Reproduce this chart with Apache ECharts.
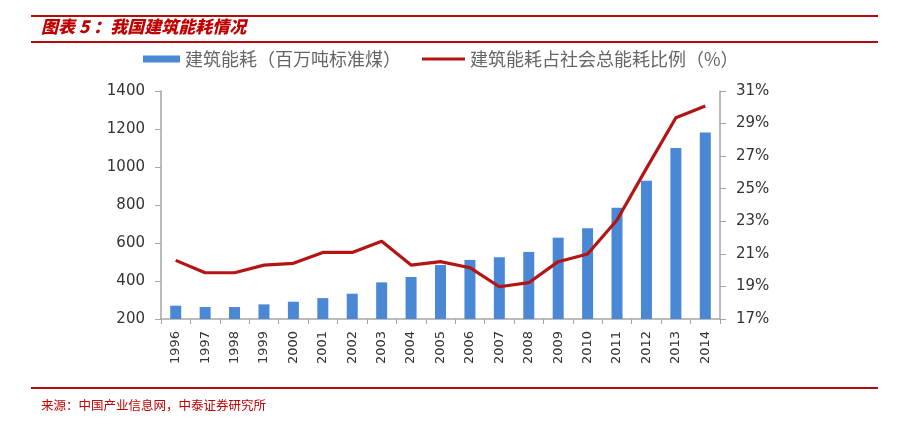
<!DOCTYPE html>
<html><head><meta charset="utf-8">
<script src="https://cdn.jsdelivr.net/npm/echarts@6/dist/echarts.min.js"></script>
<style>html,body{margin:0;padding:0;background:#fff}#c{width:906px;height:428px}</style>
</head><body><div id="c"></div>
<script>
const years = ['1996','1997','1998','1999','2000','2001','2002','2003','2004','2005','2006','2007','2008','2009','2010','2011','2012','2013','2014'];
const energy = [270,263,263,277,291,310,333,393,421,484,511,525,553,628,677,786,928,1100,1182];
const share = [20.6,19.84,19.84,20.31,20.42,21.09,21.09,21.77,20.31,20.52,20.15,18.98,19.23,20.52,20.99,23.08,26.25,29.36,30.08];
const barName = '建筑能耗（百万吨标准煤）';
const lineName = '建筑能耗占社会总能耗比例（%）';
const titleText = '图表 5 ：我国建筑能耗情况';
const sourceText = '来源：中国产业信息网，中泰证券研究所';

const red = '#b20c0c';
const chart = echarts.init(document.getElementById('c'), null, {renderer:'canvas'});
const axisLine = {show:true, lineStyle:{color:'#a6a6a6', width:1.5}};
const cjk = '"Noto Sans CJK SC", sans-serif';
chart.setOption({
  animation:false,
  backgroundColor:'#fff',
  graphic:[
    {type:'rect', shape:{x:31,y:15,width:847,height:2}, style:{fill:red}},
    {type:'rect', shape:{x:31,y:41,width:847,height:2}, style:{fill:red}},
    {type:'rect', shape:{x:31,y:387,width:847,height:2}, style:{fill:red}},
    {type:'text', left:41, top:18, style:{text:titleText, fill:'#c00000', font:'italic 900 17px '+cjk}},
    {type:'text', left:41, top:399, style:{text:sourceText, fill:'#c00000', font:'12.5px '+cjk}}
  ],
  legend:[
    {data:[barName], left:138, top:45, itemWidth:37, itemHeight:7, icon:'rect',
     textStyle:{fontSize:18, color:'#666', fontFamily:cjk}},
    {data:[lineName], left:417, top:45, itemWidth:43, itemHeight:3, icon:'rect',
     textStyle:{fontSize:18, color:'#666', fontFamily:cjk}}
  ],
  grid:{left:161, right:186, top:91, bottom:109, containLabel:false},
  xAxis:{type:'category', data:years, axisLine:axisLine,
    axisTick:{show:true, alignWithLabel:false, length:5, lineStyle:{color:'#a6a6a6'}},
    axisLabel:{rotate:90, fontSize:13, color:'#333', fontFamily:'DejaVu Sans', margin:12, interval:0}},
  yAxis:[
    {type:'value', min:200, max:1400, interval:200, splitLine:{show:false}, axisLine:axisLine,
     axisTick:{show:true, length:6, lineStyle:{color:'#a6a6a6'}},
     axisLabel:{fontSize:15, color:'#333', fontFamily:'DejaVu Sans', margin:16, formatter:function(v){return String(v);}}},
    {type:'value', min:17, max:31, interval:2, splitLine:{show:false}, axisLine:axisLine,
     axisTick:{show:true, length:6, lineStyle:{color:'#a6a6a6'}},
     axisLabel:{fontSize:15, color:'#333', fontFamily:'DejaVu Sans', margin:16, formatter:'{value}%'}}
  ],
  series:[
    {name:barName, type:'bar', data:energy, barWidth:11, itemStyle:{color:'#4a88d6'}},
    {name:lineName, type:'line', yAxisIndex:1, data:share, showSymbol:false, symbol:'none',
     lineStyle:{color:'#b41414', width:3.2}, itemStyle:{color:'#b41414'}}
  ]
});
</script></body></html>
